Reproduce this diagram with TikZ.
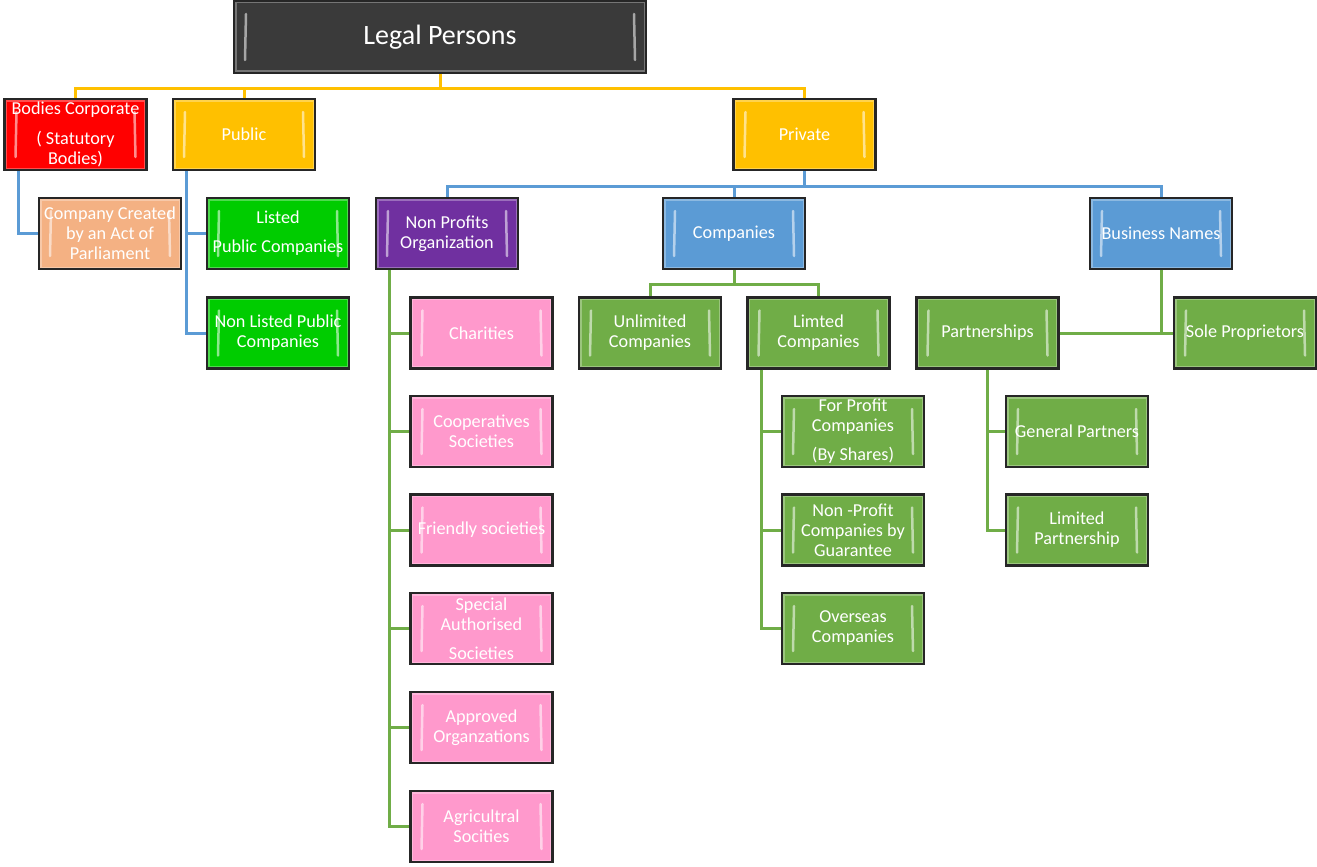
\documentclass[tikz,border=0pt]{standalone}
\usepackage{fontspec}
\setmainfont{Carlito}
\usetikzlibrary{positioning}
\definecolor{titlegray}{HTML}{3A3A3A}
\definecolor{linkyellow}{HTML}{FFC000}
\definecolor{linkblue}{HTML}{5B9BD5}
\definecolor{linkgreen}{HTML}{70AD47}
\definecolor{boxred}{HTML}{FF0000}
\definecolor{boxyellow}{HTML}{FFC000}
\definecolor{boxpeach}{HTML}{F4B183}
\definecolor{boxlime}{HTML}{00CC00}
\definecolor{boxpurple}{HTML}{7030A0}
\definecolor{boxblue}{HTML}{5B9BD5}
\definecolor{boxpink}{HTML}{FF99CC}
\definecolor{boxgreen}{HTML}{70AD47}
\tikzset{
	bevel/.style={path picture={
		\draw [white, opacity=0.3, line width=5pt]
			(path picture bounding box.north west) rectangle (path picture bounding box.south east);
		\draw [white, opacity=0.55, line width=2.5pt, line cap=round]
			([xshift=12pt,yshift=-13pt]path picture bounding box.north west) -- ([xshift=11pt,yshift=13pt]path picture bounding box.south west)
			([xshift=-12pt,yshift=-13pt]path picture bounding box.north east) -- ([xshift=-11pt,yshift=13pt]path picture bounding box.south east);
	}}
}

\begin{document}
\begin{tikzpicture} [
			x=1pt, y=-1pt,
			box/.style={rectangle, draw=black!85, line width=2.5pt, bevel,
				minimum width=142pt, minimum height=71pt, inner sep=0pt,
				align=center, text=white, font=\fontsize{18.2}{20}\selectfont},
			title/.style={box, fill=titlegray, minimum width=412pt, minimum height=72pt,
				font=\fontsize{28}{32}\selectfont},
			link/.style={line width=3pt}
		]
		\useasboundingbox (0,0) rectangle (1317,867);

		\node at (440,37)      [title] (legal) {Legal Persons};

		\node at (75.5,134.5)  [box, fill=boxred]    (bodies)  {Bodies Corporate\\[10pt]( Statutory\\Bodies)};
		\node at (244,134.5)   [box, fill=boxyellow] (public)  {Public};
		\node at (804.5,134.5) [box, fill=boxyellow] (private) {Private};

		\node at (110,233.5)   [box, fill=boxpeach]  (actco)     {Company Created\\by an Act of\\Parliament};
		\node at (278,233.5)   [box, fill=boxlime]   (listed)    {Listed\\[9pt]Public Companies};
		\node at (278,333)     [box, fill=boxlime]   (nonlisted) {Non Listed Public\\Companies};

		\node at (447,233.5)   [box, fill=boxpurple] (nonprofit) {Non Profits\\Organization};
		\node at (734,233.5)   [box, fill=boxblue]   (companies) {Companies};
		\node at (1161,233.5)  [box, fill=boxblue]   (business)  {Business Names};

		\node at (481.5,333)   [box, fill=boxpink] (charities) {Charities};
		\node at (481.5,431.5) [box, fill=boxpink] (coop)      {Cooperatives\\Societies};
		\node at (481.5,530)   [box, fill=boxpink] (friendly)  {Friendly societies};
		\node at (481.5,628.5) [box, fill=boxpink] (special)   {Special\\Authorised\\[9pt]Societies};
		\node at (481.5,727.5) [box, fill=boxpink] (approved)  {Approved\\Organzations};
		\node at (481.5,826.5) [box, fill=boxpink] (agri)      {Agricultral\\Socities};

		\node at (650,333)     [box, fill=boxgreen] (unlimited)    {Unlimited\\Companies};
		\node at (818.5,333)   [box, fill=boxgreen] (limted)       {Limted\\Companies};
		\node at (987.5,333)   [box, fill=boxgreen] (partnerships) {Partnerships};
		\node at (1245,333)    [box, fill=boxgreen] (sole)         {Sole Proprietors};

		\node at (853,431.5)   [box, fill=boxgreen] (forprofit)   {For Profit\\Companies\\[9pt](By Shares)};
		\node at (853,530)     [box, fill=boxgreen] (nonprofitco) {Non -Profit\\Companies by\\Guarantee};
		\node at (853,628.5)   [box, fill=boxgreen] (overseas)    {Overseas\\Companies};

		\node at (1077,431.5)  [box, fill=boxgreen] (general) {General Partners};
		\node at (1077,530)    [box, fill=boxgreen] (limpart) {Limited\\Partnership};

		% top level
		\draw [link, linkyellow] (legal.south) -- ++(0,14) -| (bodies.north);
		\draw [link, linkyellow] (legal.south) -- ++(0,14) -| (public.north);
		\draw [link, linkyellow] (legal.south) -- ++(0,14) -| (private.north);

		\draw [link, linkblue] ([xshift=15pt]bodies.south west) |- (actco.west);
		\draw [link, linkblue] ([xshift=15pt]public.south west) |- (listed.west);
		\draw [link, linkblue] ([xshift=15pt]public.south west) |- (nonlisted.west);

		\draw [link, linkblue] (private.south) -- ++(0,15) -| (nonprofit.north);
		\draw [link, linkblue] (private.south) -- ++(0,15) -| (companies.north);
		\draw [link, linkblue] (private.south) -- ++(0,15) -| (business.north);

		% green branches
		\foreach \n in {charities, coop, friendly, special, approved, agri}
			\draw [link, linkgreen] ([xshift=15pt]nonprofit.south west) |- (\n.west);

		\draw [link, linkgreen] (companies.south) -- ++(0,14) -| (unlimited.north);
		\draw [link, linkgreen] (companies.south) -- ++(0,14) -| (limted.north);

		\foreach \n in {forprofit, nonprofitco, overseas}
			\draw [link, linkgreen] ([xshift=15pt]limted.south west) |- (\n.west);

		\draw [link, linkgreen] (partnerships.east) -- (sole.west);
		\draw [link, linkgreen] (business.south) -- (business.south |- sole.west);

		\draw [link, linkgreen] (partnerships.south) |- (general.west);
		\draw [link, linkgreen] (partnerships.south) |- (limpart.west);
	\end{tikzpicture}
\end{document}
